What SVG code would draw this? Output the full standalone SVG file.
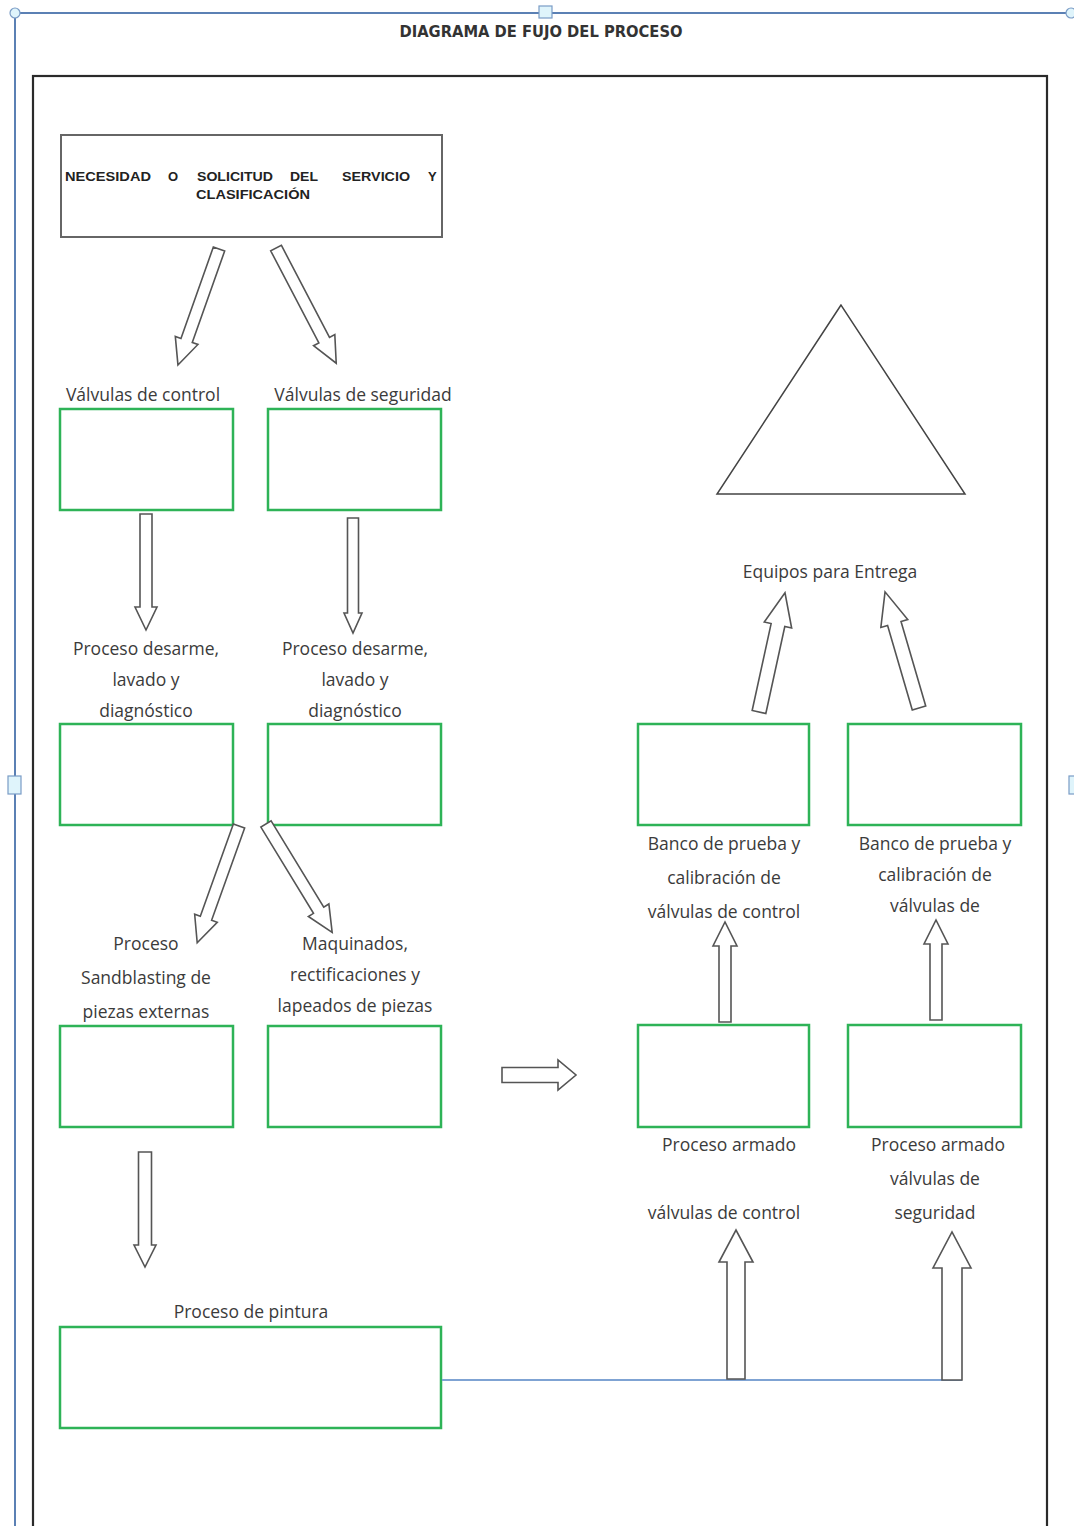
<svg xmlns="http://www.w3.org/2000/svg" width="1074" height="1526" viewBox="0 0 1074 1526">
<style>
.lbl{font-family:"Open Sans","Liberation Sans",sans-serif;font-size:17.5px;fill:#3b3b3b;text-anchor:middle}
.gbox{fill:#fff;stroke:#2eb357;stroke-width:2.5}
.arr{fill:#fff;stroke:#555;stroke-width:1.6;stroke-linejoin:miter}
.hd{font-family:"Liberation Sans",Arial,sans-serif;font-weight:bold;font-size:13px;fill:#222}
</style>
<rect width="1074" height="1526" fill="#fff"/>
<g id="frame">
<line x1="15" y1="13" x2="1070" y2="13" stroke="#5b80b4" stroke-width="2"/>
<line x1="15" y1="13" x2="15" y2="1526" stroke="#5b80b4" stroke-width="2"/>
<circle cx="15" cy="13" r="5" fill="#dff4fb" stroke="#7a9cc6" stroke-width="1.2"/>
<rect x="539" y="6" width="13" height="12" fill="#dff4fb" stroke="#7a9cc6" stroke-width="1.2"/>
<circle cx="1071" cy="13" r="5" fill="#dff4fb" stroke="#7a9cc6" stroke-width="1.2"/>
<rect x="8" y="776" width="13" height="18" fill="#dff4fb" stroke="#7a9cc6" stroke-width="1.2"/>
<rect x="1069" y="776" width="10" height="18" fill="#dff4fb" stroke="#7a9cc6" stroke-width="1.2"/>
<text x="541" y="37" font-family="'DejaVu Sans Condensed','Liberation Sans',sans-serif" font-weight="bold" font-size="16" fill="#333" text-anchor="middle" textLength="283" lengthAdjust="spacingAndGlyphs">DIAGRAMA DE FUJO DEL PROCESO</text>
<rect x="33" y="76" width="1014" height="1470" fill="none" stroke="#2a2a2a" stroke-width="2.2"/>
</g>
<g id="triangle">
<polygon points="841,305 717,494 965,494" fill="#fff" stroke="#444" stroke-width="1.5"/>
</g>
<g id="n-solicitud">
<rect x="61" y="135" width="381" height="102" fill="#fff" stroke="#666" stroke-width="2"/>
<text class="hd" x="65" y="181" textLength="86" lengthAdjust="spacingAndGlyphs">NECESIDAD</text>
<text class="hd" x="168" y="181">O</text>
<text class="hd" x="197" y="181" textLength="76" lengthAdjust="spacingAndGlyphs">SOLICITUD</text>
<text class="hd" x="290" y="181" textLength="28" lengthAdjust="spacingAndGlyphs">DEL</text>
<text class="hd" x="342" y="181" textLength="68" lengthAdjust="spacingAndGlyphs">SERVICIO</text>
<text class="hd" x="428" y="181">Y</text>
<text class="hd" x="196" y="199" textLength="114" lengthAdjust="spacingAndGlyphs">CLASIFICACIÓN</text>
</g>
<g id="n-vc">
<text class="lbl" x="143" y="401">Válvulas de control</text>
<rect class="gbox" x="60" y="409" width="173" height="101"/>
</g>
<g id="n-vs">
<text class="lbl" x="363" y="401">Válvulas de seguridad</text>
<rect class="gbox" x="268" y="409" width="173" height="101"/>
</g>
<g id="n-des1">
<text class="lbl" x="146" y="655">Proceso desarme,</text>
<text class="lbl" x="146" y="686">lavado y</text>
<text class="lbl" x="146" y="717">diagnóstico</text>
<rect class="gbox" x="60" y="724" width="173" height="101" fill-opacity="0"/>
</g>
<g id="n-des2">
<text class="lbl" x="355" y="655">Proceso desarme,</text>
<text class="lbl" x="355" y="686">lavado y</text>
<text class="lbl" x="355" y="717">diagnóstico</text>
<rect class="gbox" x="268" y="724" width="173" height="101" fill-opacity="0"/>
</g>
<g id="n-sand">
<text class="lbl" x="146" y="950">Proceso</text>
<text class="lbl" x="146" y="984">Sandblasting de</text>
<text class="lbl" x="146" y="1018">piezas externas</text>
<rect class="gbox" x="60" y="1026" width="173" height="101" fill-opacity="0"/>
</g>
<g id="n-maq">
<text class="lbl" x="355" y="950">Maquinados,</text>
<text class="lbl" x="355" y="981">rectificaciones y</text>
<text class="lbl" x="355" y="1012">lapeados de piezas</text>
<rect class="gbox" x="268" y="1026" width="173" height="101" fill-opacity="0"/>
</g>
<g id="n-pintura">
<text class="lbl" x="251" y="1318">Proceso de pintura</text>
<rect class="gbox" x="60" y="1327" width="381" height="101"/>
</g>
<g id="n-entrega">
<text class="lbl" x="830" y="578">Equipos para Entrega</text>
</g>
<g id="n-banco1">
<rect class="gbox" x="638" y="724" width="171" height="101"/>
<text class="lbl" x="724" y="850">Banco de prueba y</text>
<text class="lbl" x="724" y="884">calibración de</text>
<text class="lbl" x="724" y="918">válvulas de control</text>
</g>
<g id="n-banco2">
<rect class="gbox" x="848" y="724" width="173" height="101"/>
<text class="lbl" x="935" y="850">Banco de prueba y</text>
<text class="lbl" x="935" y="881">calibración de</text>
<text class="lbl" x="935" y="912">válvulas de</text>
</g>
<g id="n-armado1">
<rect class="gbox" x="638" y="1025" width="171" height="102"/>
<text class="lbl" x="729" y="1151">Proceso armado</text>
<text class="lbl" x="724" y="1219">válvulas de control</text>
</g>
<g id="n-armado2">
<rect class="gbox" x="848" y="1025" width="173" height="102"/>
<text class="lbl" x="938" y="1151">Proceso armado</text>
<text class="lbl" x="935" y="1185">válvulas de</text>
<text class="lbl" x="935" y="1219">seguridad</text>
</g>
<g id="connectors">
<line x1="442" y1="1380" x2="962" y2="1380" stroke="#7fa3d3" stroke-width="1.8"/>
<polygon class="arr" transform="translate(219,249) rotate(109.5)" points="0,-6 97,-6 97,-12 123,0 97,12 97,6 0,6"/>
<polygon class="arr" transform="translate(276,248) rotate(62.4)" points="0,-6 104,-6 104,-12 130,0 104,12 104,6 0,6"/>
<polygon class="arr" transform="translate(146,514) rotate(90)" points="0,-6 93,-6 93,-11 116,0 93,11 93,6 0,6"/>
<polygon class="arr" transform="translate(353,518) rotate(90)" points="0,-5.5 95,-5.5 95,-9 115,0 95,9 95,5.5 0,5.5"/>
<polygon class="arr" transform="translate(239,826) rotate(109.7)" points="0,-6 98,-6 98,-12 124,0 98,12 98,6 0,6"/>
<polygon class="arr" transform="translate(266,824) rotate(58.6)" points="0,-6 101,-6 101,-12 127,0 101,12 101,6 0,6"/>
<polygon class="arr" transform="translate(145,1152) rotate(90)" points="0,-6.5 93,-6.5 93,-11 115,0 93,11 93,6.5 0,6.5"/>
<polygon class="arr" transform="translate(502,1075)" points="0,-7.5 56,-7.5 56,-15 74,0 56,15 56,7.5 0,7.5"/>
<polygon class="arr" transform="translate(725,1022) rotate(-90)" points="0,-6 76,-6 76,-12 100,0 76,12 76,6 0,6"/>
<polygon class="arr" transform="translate(936,1020) rotate(-90)" points="0,-6 76,-6 76,-12 100,0 76,12 76,6 0,6"/>
<polygon class="arr" transform="translate(736,1379) rotate(-90)" points="0,-9 117,-9 117,-17 149,0 117,17 117,9 0,9"/>
<polygon class="arr" transform="translate(952,1380) rotate(-90)" points="0,-10 112,-10 112,-19 148,0 112,19 112,10 0,10"/>
<polygon class="arr" transform="translate(759,712) rotate(-77.7)" points="0,-7 89,-7 89,-14 122,0 89,14 89,7 0,7"/>
<polygon class="arr" transform="translate(919,708) rotate(-106.3)" points="0,-7 88,-7 88,-14 121,0 88,14 88,7 0,7"/>
</g>
</svg>
